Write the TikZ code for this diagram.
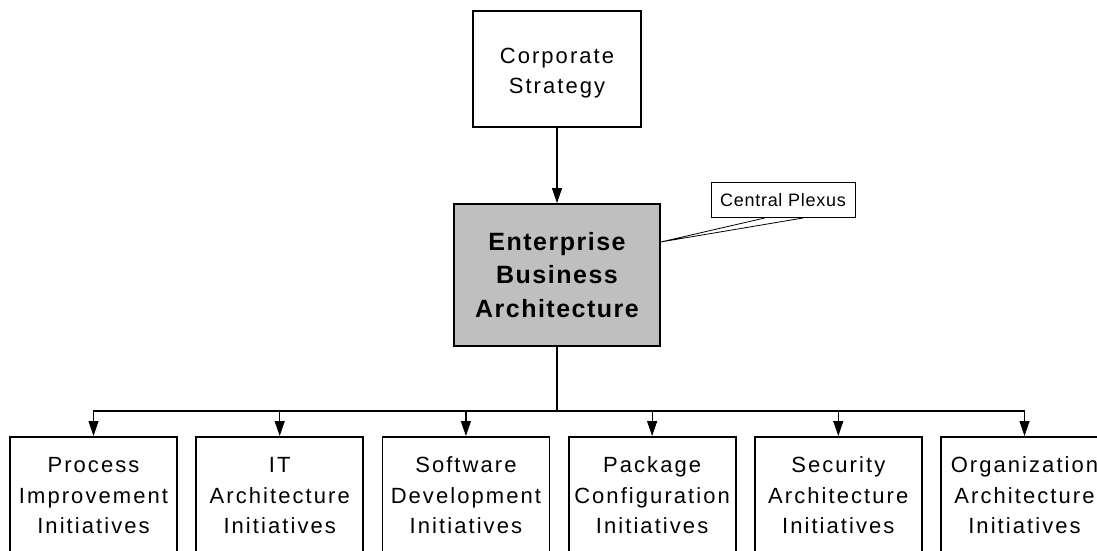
\documentclass[tikz,border=0pt]{standalone}
\usepackage{fontspec}
\setmainfont{Liberation Sans}
\newfontfamily\boxfont{Liberation Sans}[LetterSpace=9.4]
\newfontfamily\headfont{Liberation Sans}[LetterSpace=6]
\newfontfamily\notefont{Liberation Sans}[LetterSpace=4]
\usetikzlibrary{arrows.meta,calc}

\begin{document}
\begin{tikzpicture}[x=1pt,y=-1pt,
  box/.style={draw=black, line width=1.8pt, fill=white, align=center, inner xsep=0pt},
  topbox/.style={box, font=\boxfont\fontsize{22}{30.5}\selectfont,
    minimum width=168pt, minimum height=116pt, text height=49.5pt, text depth=0pt},
  corebox/.style={box, fill=black!25, font=\headfont\bfseries\fontsize{25}{33.8}\selectfont,
    minimum width=206pt, minimum height=142pt, text height=85.2pt, text depth=0pt},
  initbox/.style={box, anchor=north, font=\boxfont\fontsize{22}{30.5}\selectfont,
    minimum width=167pt, inner ysep=20pt, text height=76.75pt, text depth=69pt},
  notebox/.style={draw=black, line width=0.9pt, fill=white, font=\notefont\fontsize{18}{20}\selectfont,
    minimum width=144pt, minimum height=35pt, inner sep=0pt, text height=12.9pt, text depth=0pt},
  conn/.style={line width=1.2pt},
  stem/.style={line width=1.8pt},
  arr/.style={conn, -{Triangle[length=15pt,width=10pt]}},
  wedge/.style={line width=0.8pt}
]
\useasboundingbox (0,0) rectangle (1097,550);
\fill[white] (0,0) rectangle (1097,550);
\clip (0,0) rectangle (1097,550);

% upper levels
\node[topbox] (cs) at (557,69) {Corporate\\Strategy};
\node[corebox] (eba) at (557,275) {Enterprise\\Business\\Architecture};
\node[notebox] (cp) at (783,200) {Central Plexus};

% initiatives row
\node[initbox] (pi) at (93.5,436) {Process\\Improvement\\Initiatives};
\node[initbox] (it) at (279.7,436) {IT\\Architecture\\Initiatives};
\node[initbox] (sd) at (465.9,436) {Software\\Development\\Initiatives};
\node[initbox] (pc) at (652.1,436) {Package\\Configuration\\Initiatives};
\node[initbox] (sa) at (838.3,436) {Security\\Architecture\\Initiatives};
\node[initbox] (oa) at (1024.5,436) {Organization\\Architecture\\Initiatives};

% connectors
\draw[arr] (cs.south) -- (eba.north);

\coordinate (busy) at (0,411);
\coordinate (bus) at (eba.south |- busy);
\draw[stem] (eba.south) -- (bus);
\foreach \n in {pi,it,sd,pc,sa,oa}
  \draw[arr] (bus) -| (\n.north);

% callout pointer
\coordinate (apex) at ($(eba.north east)!0.27!(eba.south east)$);
\draw[wedge] ($(cp.south west)!0.375!(cp.south east)$) -- (apex)
  -- ($(cp.south west)!0.64!(cp.south east)$);
\end{tikzpicture}
\end{document}
